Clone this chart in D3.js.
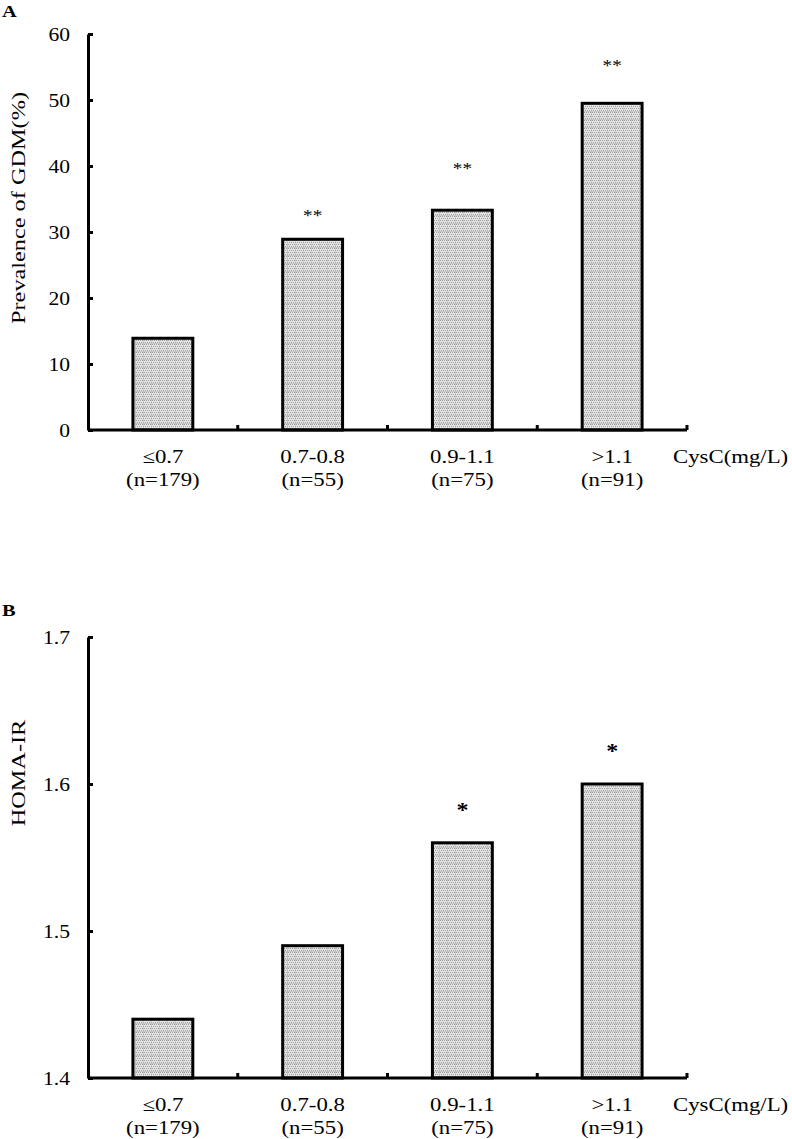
<!DOCTYPE html>
<html>
<head>
<meta charset="utf-8">
<script src="https://cdn.jsdelivr.net/npm/d3@7"></script>
<style>
  body { margin: 0; background: #fff; }
  svg text { font-family: "Liberation Serif", "Times New Roman", serif; fill: #000; }
</style>
</head>
<body>
<svg id="chart" width="792" height="1139"></svg>
<script>
// data
const cats = ["≤0.7", "0.7-0.8", "0.9-1.1", ">1.1"];
const nLabels = ["(n=179)", "(n=55)", "(n=75)", "(n=91)"];
const gdmPrev = [13.9, 28.9, 33.3, 49.5];
const gdmStars = ["", "**", "**", "**"];
const gdmStarAt = [null, 32.9, 40.0, 55.6];
const gdmTicks = [0, 10, 20, 30, 40, 50, 60];
const homaIR = [1.44, 1.49, 1.56, 1.60];
const homaStars = ["", "", "*", "*"];
const homaStarAt = [null, null, 1.584, 1.624];
const homaTicks = [1.4, 1.5, 1.6, 1.7];
const xTitle = "CysC(mg/L)";

const svg = d3.select("#chart");
const SX = 1.2; // glyphs in the figure are a bit wide

const defs = svg.append("defs");
const pat = defs.append("pattern").attr("id", "dots")
  .attr("patternUnits", "userSpaceOnUse").attr("width", 8).attr("height", 8);
pat.append("rect").attr("width", 8).attr("height", 8).attr("fill", "#e6e6e6");
for (let i = 0; i < 8; i += 2) {
  for (let j = (i / 2) % 2; j < 8; j += 2) {
    pat.append("rect").attr("x", j).attr("y", i).attr("width", 1).attr("height", 1).attr("fill", "#9c9c9c");
  }
}
pat.append("rect").attr("x", 0).attr("y", 7).attr("width", 8).attr("height", 1).attr("fill", "#bdbdbd").attr("opacity", 0.7);
pat.append("rect").attr("x", 7).attr("y", 0).attr("width", 1).attr("height", 8).attr("fill", "#bdbdbd").attr("opacity", 0.7);

function hText(g, x, y, str, size, anchor, weight) {
  return g.append("text")
    .attr("transform", "translate(" + x + "," + y + ") scale(" + SX + ",1)")
    .attr("text-anchor", anchor || "start")
    .style("font-size", size + "px")
    .style("font-weight", weight || "normal")
    .text(str);
}

function panel(c) {
  const g = svg.append("g");
  const x = d3.scaleBand().domain(cats).range([88, 687]).padding(0);
  const y = d3.scaleLinear().domain(c.domain).range([c.bottom, c.top]);

  hText(g, 2, c.letterY, c.letter, 17, "start", "bold");

  // bars
  g.selectAll("rect.bar").data(c.values).join("rect")
    .attr("class", "bar")
    .attr("x", (d, i) => x(cats[i]) + x.bandwidth() * 0.3)
    .attr("width", x.bandwidth() * 0.4)
    .attr("y", d => y(d))
    .attr("height", d => c.bottom - y(d))
    .attr("fill", "url(#dots)")
    .attr("stroke", "#000").attr("stroke-width", 3);

  // y axis, ticks pointing inward
  const ya = g.append("g").attr("transform", "translate(88,0)")
    .call(d3.axisLeft(y).tickValues(c.ticks).tickFormat(c.fmt).tickSizeInner(-5).tickSizeOuter(0).tickPadding(18));
  ya.select(".domain").attr("stroke-width", 3);
  ya.selectAll(".tick line").attr("stroke-width", 3);
  ya.selectAll(".tick text")
    .style("font-size", "18px")
    .attr("x", -18 / SX)
    .attr("dy", "0.34em")
    .attr("transform", "scale(" + SX + ",1)");

  // x axis line with upward ticks at category borders
  g.append("line").attr("x1", 88).attr("x2", 687).attr("y1", c.bottom).attr("y2", c.bottom)
    .attr("stroke", "#000").attr("stroke-width", 3);
  g.selectAll("line.xt").data(cats).join("line")
    .attr("class", "xt")
    .attr("x1", d => x(d) + x.bandwidth()).attr("x2", d => x(d) + x.bandwidth())
    .attr("y1", c.bottom).attr("y2", c.bottom - 5)
    .attr("stroke", "#000").attr("stroke-width", 3);

  cats.forEach((d, i) => {
    const cx = x(d) + x.bandwidth() / 2;
    hText(g, cx, c.bottom + 33, d, 19, "middle");
    hText(g, cx, c.bottom + 56, nLabels[i], 19, "middle");
  });
  hText(g, 673, c.bottom + 33, xTitle, 19, "start");

  // significance marks
  c.stars.forEach((s, i) => {
    if (!s) return;
    hText(g, x(cats[i]) + x.bandwidth() / 2, y(c.starAt[i]) + c.starDy, s, c.starSize, "middle", c.starWeight);
  });

  // y title
  g.append("text")
    .attr("transform", "translate(25," + c.titleY + ") rotate(-90) scale(1.35,1)")
    .attr("text-anchor", "middle")
    .style("font-size", "18px")
    .text(c.title);
}

panel({
  letter: "A", letterY: 17, top: 34, bottom: 430, domain: [0, 60],
  ticks: gdmTicks, fmt: d3.format("d"), values: gdmPrev,
  stars: gdmStars, starAt: gdmStarAt, starSize: 16, starWeight: "normal", starDy: 8,
  title: "Prevalence of GDM(%)", titleY: 208
});

panel({
  letter: "B", letterY: 616, top: 637, bottom: 1078, domain: [1.4, 1.7],
  ticks: homaTicks, fmt: d3.format(".1f"), values: homaIR,
  stars: homaStars, starAt: homaStarAt, starSize: 20, starWeight: "bold", starDy: 9,
  title: "HOMA-IR", titleY: 773
});
</script>
</body>
</html>
